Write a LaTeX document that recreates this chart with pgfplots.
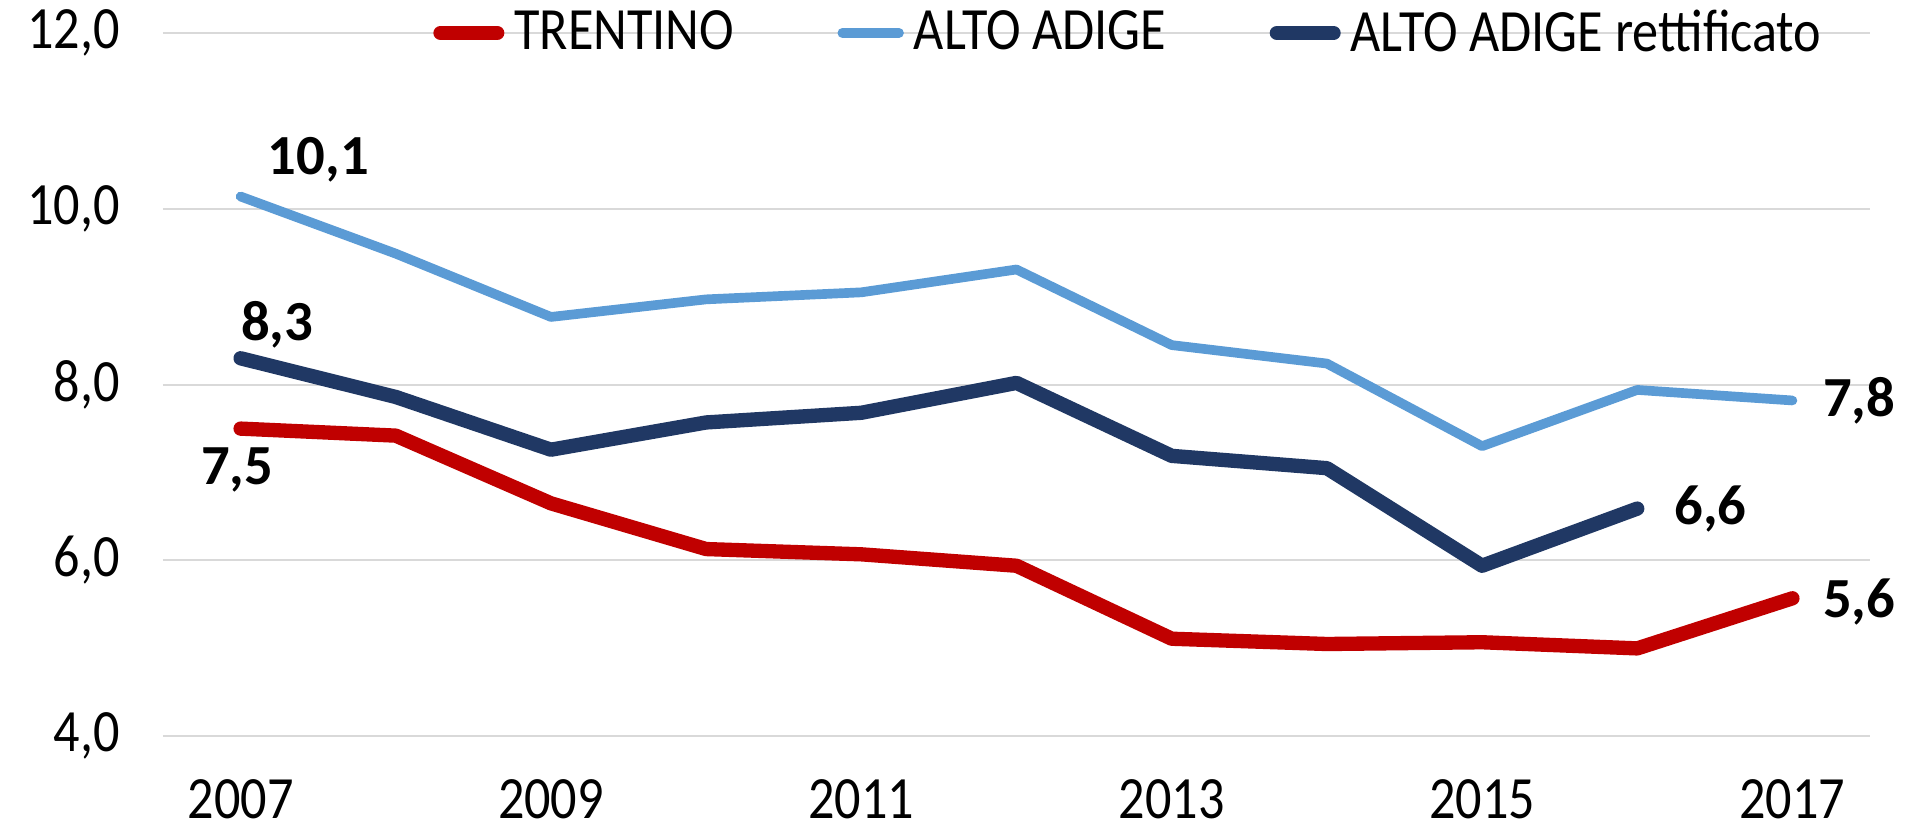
\documentclass[border=0pt]{standalone}
\usepackage{fontspec}
\setmainfont{Carlito}[FakeStretch=0.87]
\newfontfamily\labfont{Carlito}
\usepackage{pgfplots}
\pgfplotsset{compat=1.18}

\definecolor{trred}{HTML}{C00000}
\definecolor{aalight}{HTML}{5B9BD5}
\definecolor{aanavy}{HTML}{203864}
\definecolor{gridgray}{HTML}{D9D9D9}

\pgfplotstableread{
year trentino altoadige
2007 7.50 10.14
2008 7.42 9.49
2009 6.65 8.77
2010 6.13 8.97
2011 6.07 9.05
2012 5.94 9.31
2013 5.11 8.45
2014 5.05 8.24
2015 5.07 7.30
2016 5.00 7.94
2017 5.57 7.82
}\maindata

\pgfplotstableread{
year rett
2007 8.30
2008 7.86
2009 7.26
2010 7.57
2011 7.68
2012 8.02
2013 7.19
2014 7.05
2015 5.94
2016 6.59
}\rettdata

\newcommand{\lab}[1]{\labfont\bfseries\fontsize{17}{20}\selectfont #1}

\begin{document}
\begin{tikzpicture}
\begin{axis}[
    scale only axis,
    width=512.1pt, height=211pt,
    xmin=2006.5, xmax=2017.5,
    ymin=4, ymax=12,
    xtick={2007,2009,2011,2013,2015,2017},
    xticklabels={2007,2009,2011,2013,2015,2017},
    ytick={4,6,8,10,12},
    yticklabels={{4,0},{6,0},{8,0},{10,0},{12,0}},
    axis line style={draw=none},
    major tick length=0pt,
    ymajorgrids,
    grid style={color=gridgray, line width=0.6pt},
    tick label style={font=\fontsize{18}{21}\selectfont},
    yticklabel style={anchor=east, xshift=-9.5pt},
    xticklabel style={anchor=north, yshift=-9.5pt},
    clip=false,
    legend columns=-1,
    legend style={at={(rel axis cs:0.158,1)}, anchor=west, draw=none, fill=none,
        font=\fontsize{18}{21}\selectfont, inner sep=0pt,
        /tikz/every odd column/.append style={column sep=1pt},
        /tikz/every even column/.append style={column sep=29pt}},
    legend cell align=left,
    legend image code/.code={\draw[#1] (0pt,0pt) -- (17pt,0pt);},
    every axis plot/.append style={line cap=round, line join=round},
]
\addplot[color=trred, line width=4.3pt] table[x=year, y=trentino] {\maindata};
\addlegendentry{TRENTINO}
\addplot[color=aalight, line width=2.9pt] table[x=year, y=altoadige] {\maindata};
\addlegendentry{ALTO ADIGE}
\addplot[color=aanavy, line width=4.3pt] table[x=year, y=rett] {\rettdata};
\addlegendentry{ALTO ADIGE rettificato}

\node[anchor=west, inner sep=0pt, xshift=8pt, yshift=11pt] at (axis cs:2007,10.14) {\lab{10,1}};
\node[inner sep=0pt, xshift=11pt, yshift=10pt] at (axis cs:2007,8.30) {\lab{8,3}};
\node[inner sep=0pt, xshift=-1pt, yshift=-12.4pt] at (axis cs:2007,7.50) {\lab{7,5}};
\node[anchor=west, inner sep=0pt, xshift=9pt] at (axis cs:2017,7.82) {\lab{7,8}};
\node[anchor=west, inner sep=0pt, xshift=11pt] at (axis cs:2016,6.59) {\lab{6,6}};
\node[anchor=west, inner sep=0pt, xshift=9pt, yshift=-1pt] at (axis cs:2017,5.57) {\lab{5,6}};

\coordinate (sw) at (rel axis cs:0,0);
\coordinate (ne) at (rel axis cs:1,1);
\end{axis}
\pgfresetboundingbox
\path ([xshift=-48.9pt,yshift=-29pt]sw) rectangle ([xshift=11.1pt,yshift=9.9pt]ne);
\end{tikzpicture}
\end{document}
